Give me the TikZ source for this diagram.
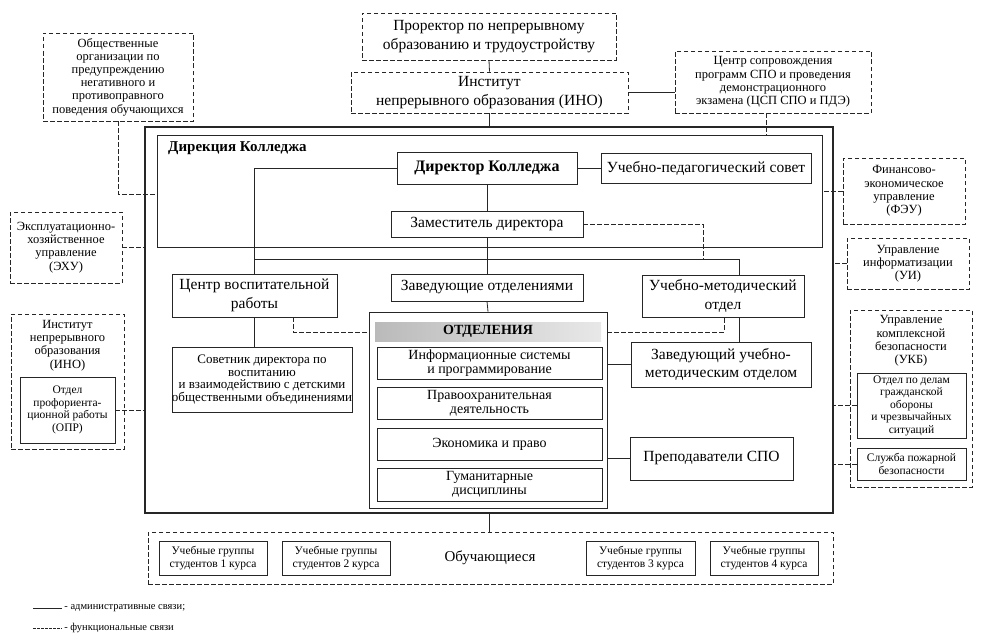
\documentclass[tikz,border=0pt]{standalone}
\usepackage{fontspec}
\setmainfont{Liberation Serif}
\usetikzlibrary{calc}

\begin{document}
\begin{tikzpicture}[x=1pt, y=-1pt,
  sz/.style 2 args={minimum width=#1pt, minimum height=#2pt},
  box/.style={draw=black!85, line width=0.8pt, inner sep=0pt, align=center, font=\fontsize{15.5}{19}\selectfont},
  fbox/.style={box, dash pattern=on 4.5pt off 2.5pt},
  mid/.style={font=\fontsize{12.5}{13.2}\selectfont},
  small/.style={font=\fontsize{11.5}{12.5}\selectfont},
  adm/.style={draw=black!85, line width=0.8pt},
  fn/.style={adm, dash pattern=on 4.5pt off 2.5pt}]
  \useasboundingbox[fill=white] (0,0) rectangle (984,642);

  \node[fbox, sz={254}{47}] (prorector) at (489,36.5) {Проректор по непрерывному\\образованию и трудоустройству};
  \node[fbox, sz={277}{41}] (ino) at (489.5,92.5) {Институт\\непрерывного образования (ИНО)};
  \node[fbox, mid, sz={196}{62}] (csp) at (773,82) {Центр сопровождения\\программ СПО и проведения\\демонстрационного\\экзамена (ЦСП СПО и ПДЭ)};
  \node[fbox, mid, sz={150}{88}] (obsh) at (118,77) {Общественные\\организации по\\предупреждению\\негативного и\\противоправного\\поведения обучающихся};

  \node[box, line width=1.6pt, sz={688}{386}] (college) at (489,320) {};
  \node[box, sz={665}{112}] (direkcia) at (489.5,191) {};
  \node[anchor=north west, inner sep=0pt, font=\bfseries\fontsize{15}{18}\selectfont] (dirlbl) at (168,141) {Дирекция Колледжа};

  \node[box, line width=1pt, sz={180}{32}, font=\bfseries\fontsize{16}{19}\selectfont] (director) at (487,168) {Директор Колледжа};
  \node[box, sz={210}{30}] (ups) at (706,168) {Учебно-педагогический совет};
  \node[box, sz={192}{26}] (zam) at (487,224) {Заместитель директора};
  \node[box, sz={165}{43}] (cvr) at (254.5,295.5) {Центр воспитательной\\работы};
  \node[box, sz={192}{27}] (zav) at (487,287.5) {Заведующие отделениями};
  \node[box, sz={162}{42}] (umo) at (723,296) {Учебно-методический\\отдел};

  \node[box, sz={238}{196}] (otd) at (488,410) {};
  \node[inner sep=0pt, sz={226}{19}, left color=black!27, right color=black!9, font=\bfseries\fontsize{14}{14}\selectfont] (hdr) at (488,331.5) {ОТДЕЛЕНИЯ};
  \node[box, sz={225}{32}, font=\fontsize{14}{14}\selectfont] (is) at (489.5,363) {Информационные системы\\и программирование};
  \node[box, sz={225}{32}, font=\fontsize{14}{14}\selectfont] (pd) at (489.5,403) {Правоохранительная\\деятельность};
  \node[box, sz={225}{32}, font=\fontsize{14}{14}\selectfont] (ep) at (489.5,444) {Экономика и право};
  \node[box, sz={225}{33}, font=\fontsize{14}{14}\selectfont] (gd) at (489.5,484.5) {Гуманитарные\\дисциплины};

  \node[box, sz={180}{65}, font=\fontsize{13}{12.7}\selectfont] (sov) at (262,379.5) {Советник директора по\\воспитанию\\и взаимодействию с детскими\\общественными объединениями};
  \node[box, sz={180}{45}, font=\fontsize{15.5}{18}\selectfont] (zum) at (721,364.5) {Заведующий учебно-\\методическим отделом};
  \node[box, sz={163}{43}] (prep) at (711.5,458.5) {Преподаватели СПО};

  \node[fbox, mid, sz={112}{71}] (ehu) at (66,247.5) {Эксплуатационно-\\хозяйственное\\управление\\(ЭХУ)};
  \node[fbox, sz={113}{135}] (inol) at (67.5,381.5) {};
  \node[align=center, inner sep=0pt, mid] (inot) at (67.5,345.5) {Институт\\непрерывного\\образования\\(ИНО)};
  \node[box, small, sz={95}{66}] (opr) at (67.5,410) {Отдел\\профориента-\\ционной работы\\(ОПР)};

  \node[fbox, mid, sz={122}{66}] (feu) at (904,191) {Финансово-\\экономическое\\управление\\(ФЭУ)};
  \node[fbox, mid, sz={122}{51}] (ui) at (908,263.5) {Управление\\информатизации\\(УИ)};
  \node[fbox, sz={122}{177}] (ukb) at (911,398.5) {};
  \node[align=center, inner sep=0pt, mid] (ukbt) at (911,341) {Управление\\комплексной\\безопасности\\(УКБ)};
  \node[box, small, sz={109}{65}] (go) at (911.5,405.5) {Отдел по делам\\гражданской\\обороны\\и чрезвычайных\\ситуаций};
  \node[box, small, sz={109}{32}] (pb) at (911.5,464) {Служба пожарной\\безопасности};

  \node[fbox, sz={685}{52}] (stud) at (490.5,558) {};
  \node[font=\fontsize{15}{18}\selectfont] (studt) at (490,558) {Обучающиеся};
  \node[box, small, sz={108}{34}] (g1) at (213,558) {Учебные группы\\студентов 1 курса};
  \node[box, small, sz={108}{34}] (g2) at (336,558) {Учебные группы\\студентов 2 курса};
  \node[box, small, sz={109}{34}] (g3) at (640.5,558) {Учебные группы\\студентов 3 курса};
  \node[box, small, sz={108}{34}] (g4) at (764,558) {Учебные группы\\студентов 4 курса};

  \draw[adm] (prorector.south) -- (ino.north);
  \draw[adm] (ino.east) -- (ino.east -| csp.west);
  \draw[adm] (ino.south) -- (ino.south |- college.north);
  \coordinate (cspd) at (766,113);
  \draw[fn] (cspd) -- (cspd |- direkcia.north);
  \coordinate (obshk) at (118,194);
  \draw[fn] (obsh.south) -- (obshk) -- (obshk -| direkcia.west);
  \draw[fn] (ehu.east) -- (ehu.east -| college.west);
  \draw[fn] (opr.east) -- (opr.east -| college.west);
  \draw[fn] (feu.west) -- (feu.west -| direkcia.east);
  \draw[fn] (ui.west) -- (ui.west -| college.east);
  \draw[fn] (go.west) -- (go.west -| college.east);
  \draw[fn] (pb.west) -- (pb.west -| college.east);

  \draw[adm] (director.east) -- (ups.west);
  \draw[adm] (director.west) -| (cvr.north);
  \draw[adm] (director.south) -- (zam.north);
  \draw[adm] (zam.south) -- (zav.north);
  \coordinate (umox) at (739,259);
  \draw[adm] (cvr.north |- umox) -- (umox) -- (umox |- umo.north);
  \draw[adm] (umox |- umo.south) -- (umox |- zum.north);
  \coordinate (zamd) at (703,224);
  \draw[fn] (zam.east) -- (zamd) -- (zamd |- umox);
  \draw[adm] (zav.south) -- (otd.north);
  \coordinate (cvrd) at (293,332);
  \draw[fn] (cvrd |- cvr.south) -- (cvrd) -- (cvrd -| otd.west);
  \coordinate (umod) at (724,332);
  \draw[fn] (umod -| otd.east) -- (umod) -- (umod |- umo.south);
  \draw[adm] (cvr.south) -- (cvr.south |- sov.north);
  \draw[adm] (zum.west -| otd.east) -- (zum.west);
  \draw[adm] (prep.west -| otd.east) -- (prep.west);
  \draw[adm] (college.south) -- (college.south |- stud.north);

  \coordinate (lg1) at (33,608);
  \coordinate (lg2) at (33,628);
  \draw[adm] (lg1) -- ++(29,0) node[right, inner sep=2pt, font=\fontsize{10.5}{12}\selectfont] (lgt1) {- административные связи;};
  \draw[fn, line width=0.6pt, dash pattern=on 2.5pt off 1.5pt] (lg2) -- ++(29,0) node[right, inner sep=2pt, font=\fontsize{10.5}{12}\selectfont] (lgt2) {- функциональные связи};
\end{tikzpicture}
\end{document}
